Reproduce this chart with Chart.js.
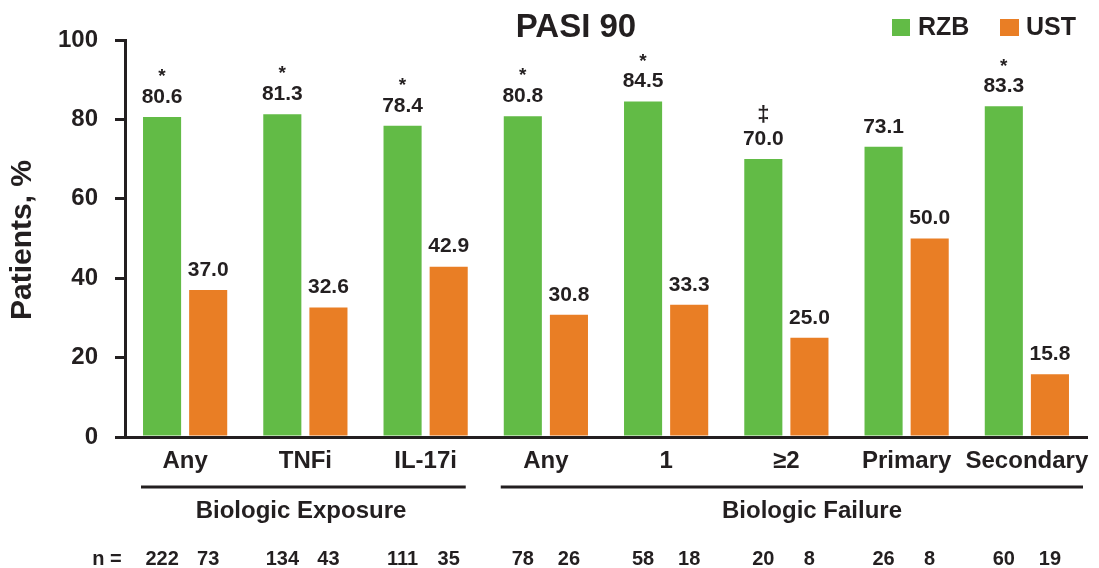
<!DOCTYPE html>
<html><head><meta charset="utf-8">
<script src="https://cdn.jsdelivr.net/npm/chart.js@4/dist/chart.umd.min.js"></script>
<style>html,body{margin:0;padding:0;background:#fff;}#wrap{width:1099px;height:568px;}</style>
</head><body><div id="wrap"><canvas id="c" width="1099" height="568"></canvas></div>
<script>
const categories = ["Any","TNFi","IL-17i","Any","1","≥2","Primary","Secondary"];
const rzb = [80.6,81.3,78.4,80.8,84.5,70.0,73.1,83.3];
const ust = [37.0,32.6,42.9,30.8,33.3,25.0,50.0,15.8];
const rzbMarks = ["*","*","*","*","*","‡","","*"];
const nRzb = [222,134,111,78,58,20,26,60];
const nUst = [73,43,35,26,18,8,8,19];
const groups = [{label:"Biologic Exposure", from:0, to:2},{label:"Biologic Failure", from:3, to:7}];
const yTicks = [0,20,40,60,80,100];

const GREEN = "#62bb46", ORANGE = "#e97e25", INK = "#231f20";
const FONT = "'Liberation Sans', Arial, sans-serif";

const overlay = {
  id:"overlay",
  afterDatasetsDraw(chart){
    const ctx = chart.ctx;
    ctx.save();
    ctx.fillStyle = INK;
    ctx.textAlign = "center";
    ctx.textBaseline = "middle";
    const m0 = chart.getDatasetMeta(0).data, m1 = chart.getDatasetMeta(1).data;
    ctx.font = "bold 21px " + FONT;
    m0.forEach((b,i)=>{ ctx.fillText(rzb[i].toFixed(1), b.x, b.y-20); });
    m1.forEach((b,i)=>{ ctx.fillText(ust[i].toFixed(1), b.x, b.y-20); });
    m0.forEach((b,i)=>{
      if(!rzbMarks[i]) return;
      ctx.font = (rzbMarks[i]==="*"?"bold 19px ":"bold 22px ") + FONT;
      ctx.fillText(rzbMarks[i], b.x, b.y-(rzbMarks[i]==="*"?40:44));
    });
    // title
    ctx.font = "bold 33px " + FONT;
    ctx.fillText("PASI 90", 576, 28);
    // legend
    ctx.font = "bold 25px " + FONT;
    ctx.textAlign = "left";
    ctx.fillStyle = GREEN; ctx.fillRect(892,19,18,17);
    ctx.fillStyle = INK; ctx.fillText("RZB", 918, 28);
    ctx.fillStyle = ORANGE; ctx.fillRect(1000,19,19,17);
    ctx.fillStyle = INK; ctx.fillText("UST", 1026, 28);
    // y title
    ctx.save();
    ctx.translate(23, 240);
    ctx.rotate(-Math.PI/2);
    ctx.textAlign = "center";
    ctx.font = "bold 30px " + FONT;
    ctx.fillText("Patients, %", 0, 0);
    ctx.restore();
    // group lines & labels
    const xs = chart.scales.x;
    const half = (xs.getPixelForValue(1)-xs.getPixelForValue(0))/2;
    ctx.textAlign = "center";
    ctx.font = "bold 24px " + FONT;
    ctx.strokeStyle = INK; ctx.lineWidth = 3;
    groups.forEach((g,gi)=>{
      const x1 = xs.getPixelForValue(g.from) - half + (gi===0?16:15);
      const x2 = xs.getPixelForValue(g.to) + half - (gi===0?20:4);
      ctx.beginPath(); ctx.moveTo(x1,487); ctx.lineTo(x2,487); ctx.stroke();
      ctx.fillText(g.label, (gi===0?301:812), 511);
    });
    // n row
    ctx.font = "bold 20px " + FONT;
    ctx.fillText("n =", 107, 559);
    m0.forEach((b,i)=>{ ctx.fillText(String(nRzb[i]), b.x, 559); });
    m1.forEach((b,i)=>{ ctx.fillText(String(nUst[i]), b.x, 559); });
    ctx.restore();
  }
};

new Chart(document.getElementById("c"), {
  type:"bar",
  data:{
    labels:categories,
    datasets:[
      {label:"RZB", data:rzb, backgroundColor:GREEN, categoryPercentage:0.767, barPercentage:0.826},
      {label:"UST", data:ust, backgroundColor:ORANGE, categoryPercentage:0.767, barPercentage:0.826}
    ]
  },
  options:{
    responsive:false, animation:false, devicePixelRatio:1,
    layout:{padding:{top:40,right:12,left:0,bottom:0}},
    plugins:{legend:{display:false}, title:{display:false}, tooltip:{enabled:false}},
    scales:{
      x:{
        grid:{display:false, drawTicks:false},
        border:{display:true, color:INK, width:3},
        ticks:{color:INK, font:{family:FONT, size:24, weight:"bold"}, padding:10, maxRotation:0, autoSkip:false},
        afterFit(s){ s.height = 131; }
      },
      y:{
        min:0, max:100,
        afterBuildTicks(s){ s.ticks = yTicks.map(v=>({value:v})); },
        grid:{drawOnChartArea:false, drawTicks:true, tickLength:10, color:INK, lineWidth:3},
        border:{display:true, color:INK, width:3},
        ticks:{color:INK, font:{family:FONT, size:24, weight:"bold"}, padding:17},
        afterFit(s){ s.width = 125; }
      }
    }
  },
  plugins:[overlay]
});
</script></body></html>
